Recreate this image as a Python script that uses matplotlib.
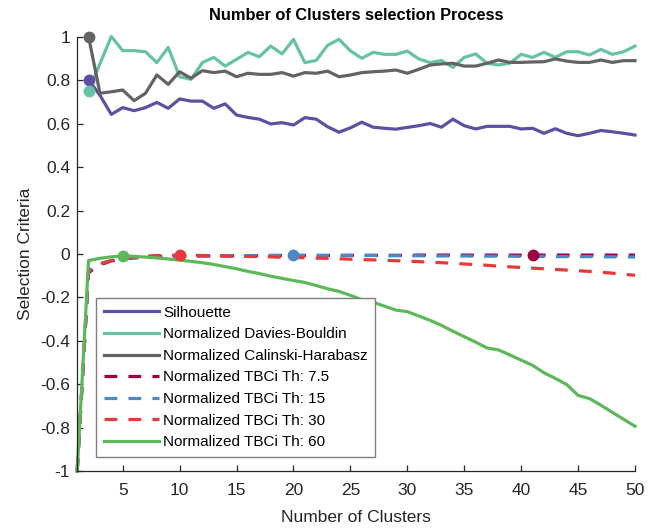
import numpy as np
import matplotlib
matplotlib.use("Agg")
import matplotlib.pyplot as plt

plt.rcParams['font.family'] = ['Liberation Sans', 'DejaVu Sans']

# number of clusters tried
k = np.arange(1, 51)

silhouette = [np.nan, 0.80, 0.73, 0.642, 0.673, 0.659, 0.673, 0.697, 0.670, 0.713,
              0.703, 0.703, 0.670, 0.690, 0.639, 0.628, 0.620, 0.598, 0.604, 0.593,
              0.627, 0.620, 0.585, 0.560, 0.580, 0.606, 0.583, 0.578, 0.574, 0.582,
              0.590, 0.600, 0.583, 0.620, 0.590, 0.575, 0.587, 0.587, 0.587, 0.575,
              0.578, 0.555, 0.576, 0.555, 0.544, 0.555, 0.568, 0.562, 0.555, 0.547]

davies_bouldin = [np.nan, 0.75, 0.875, 1.000, 0.935, 0.935, 0.930, 0.880, 0.950, 0.815,
                  0.803, 0.880, 0.904, 0.864, 0.895, 0.927, 0.907, 0.956, 0.920, 0.987,
                  0.880, 0.890, 0.960, 0.987, 0.934, 0.900, 0.927, 0.918, 0.918, 0.933,
                  0.897, 0.880, 0.890, 0.858, 0.904, 0.920, 0.877, 0.869, 0.877, 0.918,
                  0.904, 0.927, 0.904, 0.930, 0.930, 0.915, 0.941, 0.918, 0.930, 0.956]

calinski_harabasz = [np.nan, 1.00, 0.739, 0.746, 0.754, 0.705, 0.739, 0.823, 0.780, 0.838,
                     0.808, 0.843, 0.834, 0.841, 0.815, 0.831, 0.826, 0.826, 0.834, 0.818,
                     0.834, 0.831, 0.841, 0.815, 0.823, 0.834, 0.838, 0.841, 0.846, 0.831,
                     0.849, 0.869, 0.874, 0.877, 0.864, 0.864, 0.877, 0.892, 0.881, 0.881,
                     0.883, 0.884, 0.897, 0.887, 0.881, 0.881, 0.892, 0.881, 0.889, 0.889]

tbci_7_5 = [-1.0, -0.085, -0.050, -0.032, -0.024, -0.018, -0.015, -0.012, -0.011, -0.010,
            -0.010, -0.009, -0.009, -0.009, -0.008, -0.008, -0.008, -0.008, -0.007, -0.007,
            -0.007, -0.007, -0.007, -0.006, -0.006, -0.006, -0.006, -0.006, -0.006, -0.006,
            -0.005, -0.005, -0.005, -0.005, -0.005, -0.005, -0.005, -0.005, -0.005, -0.005,
            -0.004, -0.005, -0.005, -0.005, -0.005, -0.005, -0.005, -0.005, -0.005, -0.005]

tbci_15 = [-1.0, -0.080, -0.045, -0.030, -0.022, -0.017, -0.014, -0.012, -0.010, -0.009,
           -0.009, -0.008, -0.008, -0.008, -0.007, -0.007, -0.007, -0.006, -0.006, -0.005,
           -0.006, -0.006, -0.006, -0.007, -0.007, -0.007, -0.007, -0.008, -0.008, -0.008,
           -0.008, -0.009, -0.009, -0.009, -0.009, -0.010, -0.010, -0.010, -0.010, -0.011,
           -0.011, -0.011, -0.012, -0.012, -0.012, -0.012, -0.013, -0.013, -0.013, -0.014]

tbci_30 = [-1.0, -0.075, -0.045, -0.030, -0.020, -0.014, -0.010, -0.007, -0.006, -0.005,
           -0.006, -0.007, -0.008, -0.009, -0.010, -0.011, -0.012, -0.013, -0.015, -0.016,
           -0.017, -0.019, -0.020, -0.022, -0.024, -0.026, -0.027, -0.029, -0.031, -0.033,
           -0.035, -0.038, -0.040, -0.043, -0.046, -0.049, -0.052, -0.056, -0.059, -0.062,
           -0.065, -0.068, -0.071, -0.074, -0.077, -0.080, -0.084, -0.088, -0.093, -0.098]

tbci_60 = [-1.0, -0.030, -0.020, -0.013, -0.009, -0.011, -0.014, -0.018, -0.023, -0.028,
           -0.034, -0.040, -0.048, -0.058, -0.068, -0.080, -0.090, -0.102, -0.112, -0.122,
           -0.131, -0.145, -0.160, -0.172, -0.190, -0.210, -0.222, -0.240, -0.258, -0.265,
           -0.285, -0.305, -0.328, -0.355, -0.380, -0.405, -0.432, -0.441, -0.464, -0.488,
           -0.512, -0.546, -0.572, -0.600, -0.650, -0.665, -0.695, -0.728, -0.760, -0.792]

series = [
    ("Silhouette", silhouette, "#5e4fa2", "-", "max"),
    ("Normalized Davies-Bouldin", davies_bouldin, "#66c2a5", "-", "min"),
    ("Normalized Calinski-Harabasz", calinski_harabasz, "#636363", "-", "max"),
    ("Normalized TBCi Th: 7.5", tbci_7_5, "#9e0142", "--", "max"),
    ("Normalized TBCi Th: 15", tbci_15, "#4a8ac4", "--", "max"),
    ("Normalized TBCi Th: 30", tbci_30, "#e8383b", "--", "max"),
    ("Normalized TBCi Th: 60", tbci_60, "#5cb85a", "-", "max"),
]

fig = plt.figure(figsize=(6.59, 5.30), dpi=100)
ax = fig.add_axes([0.1171, 0.1104, 0.8465, 0.8207])

for name, vals, color, ls, best in series:
    vals = np.array(vals, dtype=float)
    kw = dict(dashes=(4, 3.5)) if ls == "--" else {}
    ax.plot(k, vals, color=color, lw=2.3, label=name, clip_on=False, **kw)

# mark the selected number of clusters on each criterion
for name, vals, color, ls, best in series:
    vals = np.array(vals, dtype=float)
    i = np.nanargmax(vals) if best == "max" else np.nanargmin(vals)
    ax.plot(k[i], vals[i], 'o', color=color, ms=7.5, zorder=5, clip_on=False)

ax.set_xlim(1, 50)
ax.set_ylim(-1, 1)
ax.set_xticks(np.arange(5, 51, 5))
ax.set_yticks(np.round(np.arange(-1, 1.01, 0.2), 1))
ax.set_yticklabels(['-1', '-0.8', '-0.6', '-0.4', '-0.2', '0', '0.2', '0.4', '0.6', '0.8', '1'])

ax.spines['top'].set_visible(False)
ax.spines['right'].set_visible(False)
for s in ['left', 'bottom']:
    ax.spines[s].set_color('#262626')
    ax.spines[s].set_linewidth(0.9)
ax.tick_params(direction='in', length=4, width=0.9, colors='#262626', labelsize=12.5)
ax.tick_params(axis='x', pad=8)
ax.tick_params(axis='y', pad=5)

ax.set_title("Number of Clusters selection Process", fontsize=11.8, fontweight='bold', pad=12)
ax.set_xlabel("Number of Clusters", fontsize=12.5, color='#262626', labelpad=9)
ax.set_ylabel("Selection Criteria", fontsize=12.5, color='#262626', labelpad=5)

leg = ax.legend(loc='upper left', bbox_to_anchor=(0.0337, 0.399), borderaxespad=0,
                fontsize=11, fancybox=False, framealpha=1, edgecolor='#7f7f7f',
                handlelength=3.6, handletextpad=0.3, labelspacing=0.5, borderpad=0.5)
leg.get_frame().set_linewidth(1.0)

fig.savefig("out.png", dpi=100)
